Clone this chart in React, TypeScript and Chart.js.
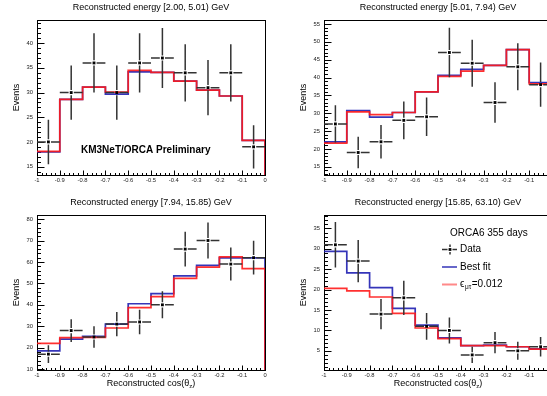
import React, { useEffect, useRef } from 'react';
import { Chart, registerables } from 'chart.js';

Chart.register(...registerables);

const FONT = '"Liberation Sans", Arial, Helvetica, sans-serif';

// Bin edges of reconstructed cos(theta_z) and x tick labels
const binEdges = [-1, -0.9, -0.8, -0.7, -0.6, -0.5, -0.4, -0.3, -0.2, -0.1, 0];
const xTickLabels = ['-1', '-0.9', '-0.8', '-0.7', '-0.6', '-0.5', '-0.4', '-0.3', '-0.2', '-0.1', '0'];

// Panel A: [2.00, 5.01) GeV
const titleA = 'Reconstructed energy [2.00, 5.01) GeV';
const dataA = [20, 30, 36, 30, 36, 37, 34, 31, 34, 19];
const errA = [4.5, 5.5, 6.0, 5.5, 6.0, 6.1, 5.8, 5.6, 5.8, 4.4];
const bestA = [18.0, 28.6, 31.1, 29.7, 34.2, 34.1, 32.3, 30.5, 29.3, 20.3];
const epsA = [18.1, 28.6, 31.1, 30.1, 34.5, 34.1, 32.3, 30.5, 29.3, 20.3];
const yTicksA = [15, 20, 25, 30, 35, 40];
const yRangeA = [13.3, 44.7];

// Panel B: [5.01, 7.94) GeV
const titleB = 'Reconstructed energy [5.01, 7.94) GeV';
const dataB = [27, 19, 22, 28, 29, 47, 44, 33, 43, 38];
const errB = [5.2, 4.4, 4.7, 5.3, 5.4, 6.9, 6.6, 5.7, 6.6, 6.2];
const bestB = [22.0, 30.7, 28.9, 30.2, 36.0, 40.6, 42.3, 43.4, 47.8, 38.6];
const epsB = [21.6, 30.4, 29.6, 30.2, 36.0, 40.3, 41.8, 43.4, 47.8, 38.2];
const yTicksB = [15, 20, 25, 30, 35, 40, 45, 50, 55];
const yRangeB = [12.7, 56.1];

// Panel C: [7.94, 15.85) GeV
const titleC = 'Reconstructed energy [7.94, 15.85) GeV';
const dataC = [17, 28, 25, 31, 32, 40, 66, 70, 59, 62];
const errC = [4.1, 5.3, 5.0, 5.6, 5.7, 6.3, 8.1, 8.4, 7.7, 7.9];
const bestC = [18.5, 24.0, 25.3, 31.0, 40.5, 45.2, 53.5, 58.4, 61.9, 61.9];
const epsC = [22.0, 24.7, 24.8, 29.2, 38.7, 43.8, 52.3, 57.6, 62.4, 56.9];
const yTicksC = [10, 20, 30, 40, 50, 60, 70, 80];
const yRangeC = [9.6, 81.9];

// Panel D: [15.85, 63.10) GeV
const titleD = 'Reconstructed energy [15.85, 63.10) GeV';
const dataD = [31, 27, 14, 18, 11, 10, 4, 7, 5, 6];
const errD = [5.6, 5.2, 3.7, 4.2, 3.3, 3.2, 2.0, 2.6, 2.2, 2.4];
const bestD = [29.4, 24.1, 20.5, 15.4, 11.3, 8.2, 6.3, 6.4, 6.0, 5.5];
const epsD = [20.3, 19.7, 18.2, 14.2, 10.6, 8.0, 6.3, 6.3, 6.0, 5.4];
const yTicksD = [5, 10, 15, 20, 25, 30, 35];
const yRangeD = [0.3, 38.3];

// Texts
const yTitle = 'Events';
const xTitleMain = 'Reconstructed cos(θ';
const xTitleSub = 'z';
const xTitleEnd = ')';
const prelimText = 'KM3NeT/ORCA Preliminary';
const legendHeader = 'ORCA6 355 days';
const legendData = 'Data';
const legendBest = 'Best fit';
const epsSymbol = 'ϵ';
const epsSub = 'μτ';
const epsValue = '=0.012';

const BLUE = 'rgba(25,25,175,0.88)';
const RED = 'rgba(255,25,25,0.9)';
const DATA_COLOR = '#333333';

type PanelCfg = {
  title: string;
  data: number[];
  err: number[];
  best: number[];
  eps: number[];
  yTicks: number[];
  yRange: number[];
  left: number;
  top: number;
  height: number;
  xTitle: boolean;
  preliminary: boolean;
  legend: boolean;
};

const panels: PanelCfg[] = [
  { title: titleA, data: dataA, err: errA, best: bestA, eps: epsA, yTicks: yTicksA, yRange: yRangeA, left: 0, top: 0, height: 195, xTitle: false, preliminary: true, legend: false },
  { title: titleB, data: dataB, err: errB, best: bestB, eps: epsB, yTicks: yTicksB, yRange: yRangeB, left: 287, top: 0, height: 195, xTitle: false, preliminary: false, legend: false },
  { title: titleC, data: dataC, err: errC, best: bestC, eps: epsC, yTicks: yTicksC, yRange: yRangeC, left: 0, top: 195, height: 201, xTitle: true, preliminary: false, legend: false },
  { title: titleD, data: dataD, err: errD, best: bestD, eps: epsD, yTicks: yTicksD, yRange: yRangeD, left: 287, top: 195, height: 201, xTitle: true, preliminary: false, legend: true },
];

const CANVAS_W = 273;
const FRAME_TOP = 20;
const FRAME_BOTTOM = 175;
const FRAME_LEFT = 37;
const FRAME_RIGHT_PAD = 8;

function makePlugin(cfg: PanelCfg) {
  return {
    id: 'rootStyle',
    beforeDatasetsDraw(chart: any) {
      const { ctx, chartArea: a } = chart;
      const xs = chart.scales.x;
      const ys = chart.scales.y;
      const L = Math.round(a.left) + 0.5;
      const R = Math.round(a.right) + 0.5;
      const T = Math.round(a.top) + 0.5;
      const B = Math.round(a.bottom) + 0.5;
      ctx.save();
      ctx.strokeStyle = '#000';
      ctx.lineWidth = 1;
      ctx.strokeRect(L, T, R - L, B - T);
      ctx.beginPath();
      const yStep = cfg.yTicks[1] - cfg.yTicks[0];
      const yMinor = yStep / 5;
      const [yMin, yMax] = cfg.yRange;
      for (let k = Math.ceil(yMin / yMinor - 1e-9); k * yMinor <= yMax + 1e-9; k++) {
        const v = k * yMinor;
        const isMajor = k % 5 === 0;
        const py = Math.round(ys.getPixelForValue(v)) + 0.5;
        ctx.moveTo(L, py);
        ctx.lineTo(L + (isMajor ? 7 : 3.5), py);
      }
      const xStep = binEdges[1] - binEdges[0];
      const xMinor = xStep / 5;
      const x0 = binEdges[0];
      const nMinor = Math.round((binEdges[binEdges.length - 1] - x0) / xMinor);
      for (let k = 0; k <= nMinor; k++) {
        const v = x0 + k * xMinor;
        const isMajor = k % 5 === 0;
        const px = Math.round(xs.getPixelForValue(v)) + 0.5;
        ctx.moveTo(px, B);
        ctx.lineTo(px, B - (isMajor ? 5 : 2.5));
      }
      ctx.stroke();
      ctx.restore();
    },
    afterDatasetsDraw(chart: any) {
      const { ctx } = chart;
      const xs = chart.scales.x;
      const ys = chart.scales.y;
      const g = 2.6;
      ctx.save();
      ctx.strokeStyle = DATA_COLOR;
      ctx.lineWidth = 1.5;
      ctx.beginPath();
      cfg.data.forEach((v, i) => {
        const e0 = binEdges[i];
        const e1 = binEdges[i + 1];
        const c = (e0 + e1) / 2;
        const px = xs.getPixelForValue(c);
        const py = ys.getPixelForValue(v);
        const pl = xs.getPixelForValue(e0);
        const pr = xs.getPixelForValue(e1);
        const pt = ys.getPixelForValue(v + cfg.err[i]);
        const pb = ys.getPixelForValue(v - cfg.err[i]);
        ctx.moveTo(pl, py);
        ctx.lineTo(px - g, py);
        ctx.moveTo(px + g, py);
        ctx.lineTo(pr, py);
        ctx.moveTo(px, pt);
        ctx.lineTo(px, py - g);
        ctx.moveTo(px, py + g);
        ctx.lineTo(px, pb);
      });
      ctx.stroke();
      ctx.restore();
    },
    afterDraw(chart: any) {
      const { ctx, chartArea: a } = chart;
      const cx = (a.left + a.right) / 2;
      const cy = (a.top + a.bottom) / 2;
      ctx.save();
      ctx.fillStyle = '#000';
      // title
      ctx.font = `9px ${FONT}`;
      ctx.textAlign = 'center';
      ctx.textBaseline = 'middle';
      ctx.fillText(cfg.title, cx, 8);
      // y title
      ctx.save();
      ctx.translate(17, cy);
      ctx.rotate(-Math.PI / 2);
      ctx.fillText(yTitle, 0, 0);
      ctx.restore();
      // x title
      if (cfg.xTitle) {
        ctx.textAlign = 'left';
        ctx.textBaseline = 'alphabetic';
        ctx.font = `9px ${FONT}`;
        const w1 = ctx.measureText(xTitleMain).width;
        const w3 = ctx.measureText(xTitleEnd).width;
        ctx.font = `6px ${FONT}`;
        const w2 = ctx.measureText(xTitleSub).width;
        const start = cx - (w1 + w2 + w3) / 2;
        const base = 190.5;
        ctx.font = `9px ${FONT}`;
        ctx.fillText(xTitleMain, start, base);
        ctx.font = `6px ${FONT}`;
        ctx.fillText(xTitleSub, start + w1, base + 2);
        ctx.font = `9px ${FONT}`;
        ctx.fillText(xTitleEnd, start + w1 + w2, base);
      }
      if (cfg.preliminary) {
        ctx.textAlign = 'left';
        ctx.textBaseline = 'middle';
        ctx.font = `bold 10px ${FONT}`;
        ctx.fillText(prelimText, 81, 150);
      }
      if (cfg.legend) {
        ctx.textAlign = 'left';
        ctx.textBaseline = 'middle';
        ctx.font = `10px ${FONT}`;
        ctx.fillText(legendHeader, 163, 38.5);
        const lx0 = 155;
        const lx1 = 170;
        const lxc = 163;
        const tx = 173;
        // Data symbol
        const y1 = 54.5;
        ctx.strokeStyle = DATA_COLOR;
        ctx.lineWidth = 1.5;
        ctx.beginPath();
        ctx.moveTo(lx0, y1);
        ctx.lineTo(lxc - 2.5, y1);
        ctx.moveTo(lxc + 2.5, y1);
        ctx.lineTo(lx1, y1);
        ctx.moveTo(lxc, y1 - 5);
        ctx.lineTo(lxc, y1 - 2.5);
        ctx.moveTo(lxc, y1 + 2.5);
        ctx.lineTo(lxc, y1 + 5);
        ctx.stroke();
        ctx.fillStyle = '#000';
        ctx.fillRect(lxc - 1.4, y1 - 1.4, 2.8, 2.8);
        ctx.fillText(legendData, tx, y1);
        // Best fit
        const y2 = 72;
        ctx.strokeStyle = BLUE;
        ctx.lineWidth = 1.5;
        ctx.beginPath();
        ctx.moveTo(lx0, y2);
        ctx.lineTo(lx1, y2);
        ctx.stroke();
        ctx.fillText(legendBest, tx, y2);
        // eps
        const y3 = 89.5;
        ctx.strokeStyle = 'rgba(255,40,40,0.55)';
        ctx.lineWidth = 2;
        ctx.beginPath();
        ctx.moveTo(lx0, y3);
        ctx.lineTo(lx1, y3);
        ctx.stroke();
        ctx.font = `10px ${FONT}`;
        ctx.fillText(epsSymbol, tx, y3);
        const we = ctx.measureText(epsSymbol).width;
        ctx.font = `6.5px ${FONT}`;
        ctx.fillText(epsSub, tx + we + 0.5, y3 + 2.5);
        const ws = ctx.measureText(epsSub).width;
        ctx.font = `10px ${FONT}`;
        ctx.fillText(epsValue, tx + we + ws + 1, y3);
      }
      ctx.restore();
    },
  };
}

function Panel({ cfg }: { cfg: PanelCfg }) {
  const ref = useRef<HTMLCanvasElement>(null);
  useEffect(() => {
    const canvas = ref.current;
    if (!canvas) return;
    const [yMin, yMax] = cfg.yRange;
    const last = binEdges[binEdges.length - 1];
    const centers = cfg.data.map((_, i) => (binEdges[i] + binEdges[i + 1]) / 2);
    const stepPts = (vals: number[]) => [
      ...vals.map((v, i) => ({ x: binEdges[i], y: v })),
      { x: last, y: vals[vals.length - 1] },
      { x: last, y: yMin },
    ];
    const chart = new Chart(canvas, {
      type: 'line',
      data: {
        datasets: [
          {
            label: legendData,
            data: centers.map((c, i) => ({ x: c, y: cfg.data[i] })),
            showLine: false,
            pointStyle: 'rect',
            pointRadius: 2,
            pointBackgroundColor: '#000',
            pointBorderColor: '#000',
            pointBorderWidth: 0,
          },
          {
            label: 'eps',
            data: stepPts(cfg.eps),
            stepped: 'before',
            borderColor: RED,
            borderWidth: 1.7,
            pointRadius: 0,
            fill: false,
          },
          {
            label: legendBest,
            data: stepPts(cfg.best),
            stepped: 'before',
            borderColor: BLUE,
            borderWidth: 1.7,
            pointRadius: 0,
            fill: false,
          },
        ],
      } as any,
      options: {
        animation: false,
        responsive: false,
        maintainAspectRatio: false,
        devicePixelRatio: 1,
        events: [],
        layout: { padding: { left: 0, right: FRAME_RIGHT_PAD, top: FRAME_TOP, bottom: 0 } },
        plugins: { legend: { display: false }, tooltip: { enabled: false }, title: { display: false } },
        scales: {
          x: {
            type: 'linear',
            min: binEdges[0],
            max: last,
            afterBuildTicks: (s: any) => {
              s.ticks = binEdges.map((v) => ({ value: v }));
            },
            afterFit: (s: any) => {
              s.height = cfg.height - FRAME_BOTTOM;
            },
            grid: { display: false, drawTicks: false, tickLength: 0 },
            border: { display: false },
            ticks: {
              autoSkip: false,
              maxRotation: 0,
              minRotation: 0,
              padding: 2,
              color: '#222',
              font: { size: 5.8, family: FONT },
              callback: (_v: any, i: number) => xTickLabels[i],
            },
          },
          y: {
            type: 'linear',
            min: yMin,
            max: yMax,
            afterBuildTicks: (s: any) => {
              s.ticks = cfg.yTicks.map((v) => ({ value: v }));
            },
            afterFit: (s: any) => {
              s.width = FRAME_LEFT;
            },
            grid: { display: false, drawTicks: false, tickLength: 0 },
            border: { display: false },
            ticks: {
              autoSkip: false,
              padding: 4,
              color: '#222',
              font: { size: 5.8, family: FONT },
              callback: (v: any) => String(v),
            },
          },
        },
      } as any,
      plugins: [makePlugin(cfg) as any],
    });
    return () => chart.destroy();
  }, [cfg]);
  return (
    <canvas
      ref={ref}
      width={CANVAS_W}
      height={cfg.height}
      style={{ position: 'absolute', left: cfg.left, top: cfg.top, width: CANVAS_W, height: cfg.height }}
    />
  );
}

export default function App() {
  return (
    <div
      style={{
        position: 'fixed',
        left: 0,
        top: 0,
        width: 547,
        height: 396,
        overflow: 'hidden',
        background: '#fff',
      }}
    >
      {panels.map((p) => (
        <Panel key={p.title} cfg={p} />
      ))}
    </div>
  );
}
